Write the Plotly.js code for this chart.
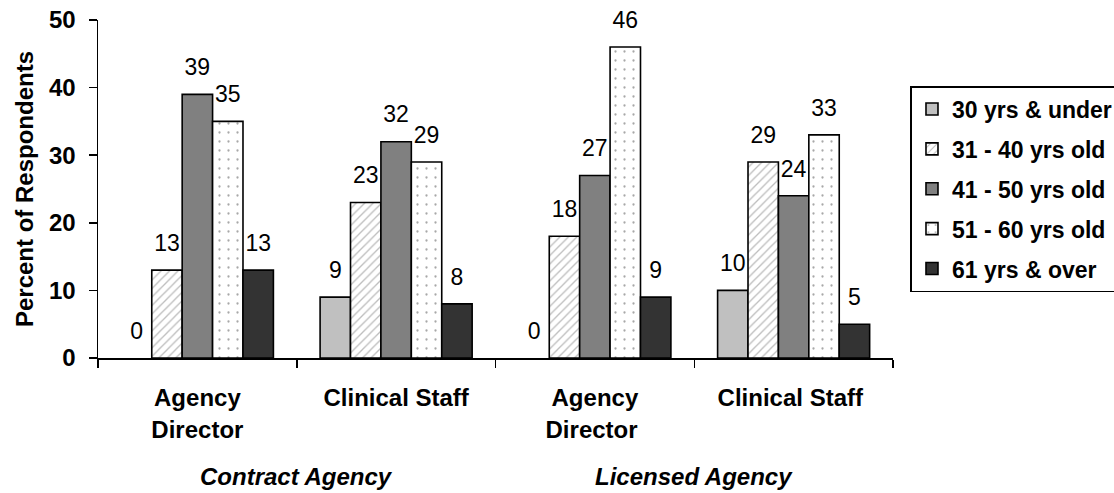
<!DOCTYPE html>
<html>
<head>
<meta charset="utf-8">
<script src="https://cdn.plot.ly/plotly-3.0.1.min.js"></script>
<style>
  html, body { margin: 0; padding: 0; background: #fff; }
  #chart { width: 1114px; height: 493px; }
</style>
</head>
<body>
<div id="chart"></div>
<script>
// Respondent roles (x categories) and their agency type groups
const roles = ["Agency<br>Director", "Clinical Staff", "Agency<br>Director ", "Clinical Staff "];
const agencyGroups = ["Contract Agency", "Licensed Agency"];

// Age brackets (legend entries)
const ageBrackets = ["30 yrs & under", "31 - 40 yrs old", "41 - 50 yrs old", "51 - 60 yrs old", "61 yrs & over"];

// Percent of respondents, one array per age bracket, in role order
const under30 = [0, 9, 0, 10];
const age31to40 = [13, 23, 18, 29];
const age41to50 = [39, 32, 27, 24];
const age51to60 = [35, 29, 46, 33];
const over61 = [13, 8, 9, 5];

const seriesValues = [under30, age31to40, age41to50, age51to60, over61];

// Fill styles per bracket
const fills = [
  { color: "#c0c0c0" },
  { color: "#ffffff", pattern: { shape: "/", fgcolor: "#bdbdbd", bgcolor: "#ffffff", size: 6, solidity: 0.22 } },
  { color: "#808080" },
  { color: "#ffffff", pattern: { shape: ".", fgcolor: "#a8a8a8", bgcolor: "#ffffff", size: 9, solidity: 0.05 } },
  { color: "#333333" }
];

const FONT = "Liberation Sans, Arial, sans-serif";

const traces = [];
seriesValues.forEach((vals, i) => {
  const marker = { color: fills[i].color, line: { color: "#000000", width: 1.6 } };
  if (fills[i].pattern) marker.pattern = fills[i].pattern;
  traces.push({
    type: "bar",
    name: ageBrackets[i],
    x: roles,
    // a zero share draws no bar at all, only its label
    y: vals.map(v => (v === 0 ? null : v)),
    marker: marker,
    offsetgroup: String(i),
    legendgroup: String(i),
    hoverinfo: "skip"
  });
});

// Value labels, grouped alongside the bars
seriesValues.forEach((vals, i) => {
  traces.push({
    type: "scatter",
    mode: "markers+text",
    x: roles,
    y: vals,
    text: vals.map(String),
    textposition: "top center",
    textfont: { family: FONT, size: 23, color: "#000000" },
    marker: { size: 20, color: "rgba(0,0,0,0)" },
    offsetgroup: String(i),
    legendgroup: String(i),
    showlegend: false,
    hoverinfo: "skip",
    cliponaxis: false
  });
});

const layout = {
  width: 1114,
  height: 493,
  margin: { l: 98, r: 221, t: 20, b: 135, autoexpand: false },
  paper_bgcolor: "#ffffff",
  plot_bgcolor: "#ffffff",
  barmode: "group",
  bargap: 0.235,
  bargroupgap: 0,
  scattermode: "group",
  scattergap: 0.235,
  font: { family: FONT, color: "#000000" },
  xaxis: {
    type: "category",
    showline: true,
    linecolor: "#000000",
    linewidth: 1.5,
    ticks: "outside",
    tickson: "boundaries",
    ticklen: 8,
    tickwidth: 1.5,
    tickcolor: "#000000",
    showgrid: false,
    zeroline: false,
    tickfont: { family: FONT, size: 24, color: "#000000", weight: "bold" },
    ticklabelstandoff: 18
  },
  yaxis: {
    range: [0, 50],
    dtick: 10,
    showline: true,
    linecolor: "#000000",
    linewidth: 1.5,
    ticks: "outside",
    ticklen: 8,
    tickwidth: 1.5,
    tickcolor: "#000000",
    showgrid: false,
    zeroline: false,
    tickfont: { family: FONT, size: 24, color: "#000000", weight: "bold" },
    ticklabelstandoff: 8,
    title: {
      text: "Percent of Respondents",
      font: { family: FONT, size: 24, color: "#000000", weight: "bold" },
      standoff: 8
    }
  },
  legend: {
    x: 1.022,
    xanchor: "left",
    y: 0.5,
    yanchor: "middle",
    bordercolor: "#000000",
    borderwidth: 1.5,
    bgcolor: "#ffffff",
    font: { family: FONT, size: 23, color: "#000000", weight: "bold" },
    tracegroupgap: 7,
    traceorder: "grouped"
  },
  annotations: agencyGroups.map((g, k) => ({
    text: g,
    xref: "x",
    yref: "paper",
    x: k * 2 + 0.5,
    y: -0.352,
    yanchor: "middle",
    showarrow: false,
    font: { family: FONT, size: 24, color: "#000000", weight: "bold", style: "italic" }
  })),
  showlegend: true
};

Plotly.newPlot("chart", traces, layout, { staticPlot: true, displayModeBar: false });
</script>
</body>
</html>
